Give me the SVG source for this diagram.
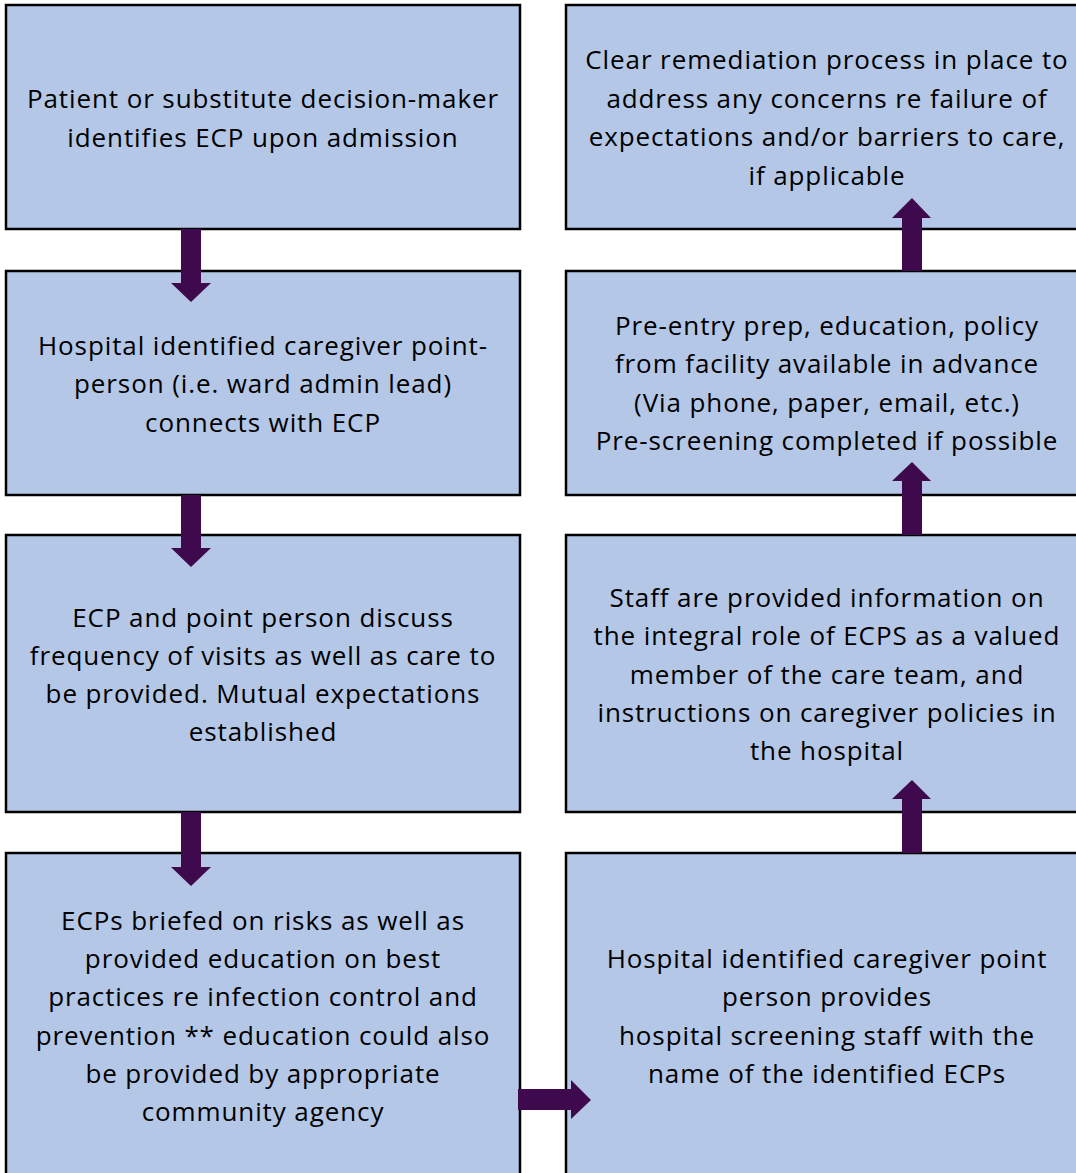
<svg xmlns="http://www.w3.org/2000/svg" width="1076" height="1173" viewBox="0 0 1076 1173">
<defs>
<style>
.box{fill:#B4C7E7;stroke:#000;stroke-width:2.5}
.arr{fill:#3F0A4D}
text{font-family:"Open Sans","Liberation Sans",sans-serif;font-size:26px;letter-spacing:0.9px;fill:#000;text-anchor:middle}
</style>
</defs>
<rect x="0" y="0" width="1076" height="1173" fill="#fff"/>
<g id="n1"><rect class="box" x="6" y="5" width="514" height="224"/>
<text x="263" y="108">Patient or substitute decision-maker</text>
<text x="263" y="147">identifies ECP upon admission</text></g>
<g id="n2"><rect class="box" x="6" y="271" width="514" height="224"/>
<text x="263" y="355">Hospital identified caregiver point-</text>
<text x="263" y="393">person (i.e. ward admin lead)</text>
<text x="263" y="432">connects with ECP</text></g>
<g id="n3"><rect class="box" x="6" y="535" width="514" height="277"/>
<text x="263" y="627">ECP and point person discuss</text>
<text x="263" y="665">frequency of visits as well as care to</text>
<text x="263" y="703">be provided. Mutual expectations</text>
<text x="263" y="741">established</text></g>
<g id="n4"><rect class="box" x="6" y="853" width="514" height="330"/>
<text x="263" y="930">ECPs briefed on risks as well as</text>
<text x="263" y="968">provided education on best</text>
<text x="263" y="1006">practices re infection control and</text>
<text x="263" y="1045">prevention ** education could also</text>
<text x="263" y="1083">be provided by appropriate</text>
<text x="263" y="1121">community agency</text></g>
<g id="n5"><rect class="box" x="566" y="853" width="520" height="330"/>
<text x="827" y="968">Hospital identified caregiver point</text>
<text x="827" y="1006">person provides</text>
<text x="827" y="1045">hospital screening staff with the</text>
<text x="827" y="1083">name of the identified ECPs</text></g>
<g id="n6"><rect class="box" x="566" y="535" width="520" height="277"/>
<text x="827" y="607">Staff are provided information on</text>
<text x="827" y="645">the integral role of ECPS as a valued</text>
<text x="827" y="684">member of the care team, and</text>
<text x="827" y="722">instructions on caregiver policies in</text>
<text x="827" y="760">the hospital</text></g>
<g id="n7"><rect class="box" x="566" y="271" width="520" height="224"/>
<text x="827" y="335">Pre-entry prep, education, policy</text>
<text x="827" y="373">from facility available in advance</text>
<text x="827" y="412">(Via phone, paper, email, etc.)</text>
<text x="827" y="450">Pre-screening completed if possible</text></g>
<g id="n8"><rect class="box" x="566" y="5" width="520" height="224"/>
<text x="827" y="69">Clear remediation process in place to</text>
<text x="827" y="108">address any concerns re failure of</text>
<text x="827" y="146">expectations and/or barriers to care,</text>
<text x="827" y="185">if applicable</text></g>
<g id="connectors">
<polygon class="arr" points="181,229 201,229 201,283 211,283 191,302 171,283 181,283"/>
<polygon class="arr" points="181,495 201,495 201,548 211,548 191,567 171,548 181,548"/>
<polygon class="arr" points="181,812 201,812 201,867 211,867 191,886 171,867 181,867"/>
<polygon class="arr" points="518,1089 571,1089 571,1080 591,1100 571,1119 571,1110 518,1110"/>
<polygon class="arr" points="902,853 922,853 922,799 931,799 912,780 892,799 902,799"/>
<polygon class="arr" points="902,535 922,535 922,481 931,481 912,462 892,481 902,481"/>
<polygon class="arr" points="902,271 922,271 922,218 931,218 912,198 892,218 902,218"/>
</g>
</svg>
